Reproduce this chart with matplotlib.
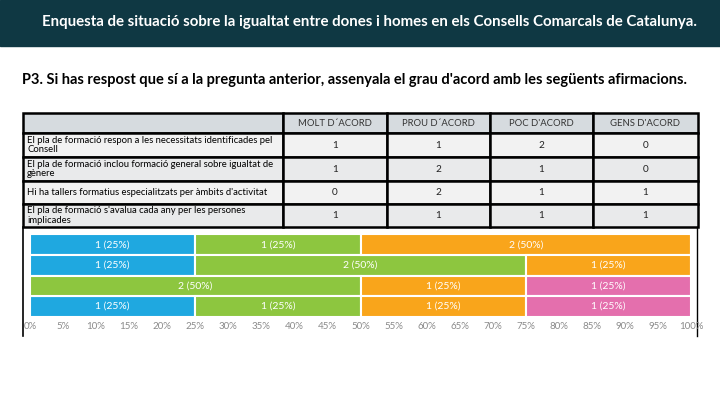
import numpy as np
import matplotlib.pyplot as plt
from matplotlib.patches import Rectangle

title = 'Enquesta de situació sobre la igualtat entre dones i homes en els Consells Comarcals de Catalunya.'
question = "P3. Si has respost que sí a la pregunta anterior, assenyala el grau d'acord amb les següents afirmacions."
answers = ['MOLT D´ACORD', 'PROU D´ACORD', "POC D'ACORD", "GENS D'ACORD"]
statements = [
    'El pla de formació respon a les necessitats identificades pel\nConsell',
    'El pla de formació inclou formació general sobre igualtat de\ngènere',
    "Hi ha tallers formatius especialitzats per àmbits d'activitat",
    "El pla de formació s'avalua cada any per les persones\nimplicades",
]
molt = [1, 1, 0, 1]
prou = [1, 2, 2, 1]
poc = [2, 1, 1, 1]
gens = [0, 0, 1, 1]
colors = ['#1fa8e0', '#8dc63f', '#f9a51b', '#e46fad']

plt.rcParams['font.family'] = ['Lato', 'DejaVu Sans']

W, H = 720, 405
fig = plt.figure(figsize=(W / 100, H / 100), dpi=100)

# background axes in pixel coordinates
bg = fig.add_axes([0, 0, 1, 1])
bg.set_xlim(0, W)
bg.set_ylim(H, 0)
bg.axis('off')

bg.add_patch(Rectangle((0, 0), W, 45.5, color='#0f3843'))
bg.text(370, 22, title, color='white', fontsize=10.8, weight='bold', ha='center', va='center')
bg.text(22, 80, question, color='black', fontsize=10.5, weight='bold', ha='left', va='center')

# table
col_x = [23, 283, 387, 490, 593, 698]
row_y = [113, 133, 157, 181, 204, 227]
values = np.array([molt, prou, poc, gens]).T
for r in range(5):
    y0, y1 = row_y[r], row_y[r + 1]
    fc = '#d6dbdf' if r == 0 else ('#f2f2f2' if r % 2 == 1 else '#e9eaeb')
    for c in range(5):
        x0, x1 = col_x[c], col_x[c + 1]
        bg.add_patch(Rectangle((x0, y0), x1 - x0, y1 - y0, facecolor=fc,
                               edgecolor='black', linewidth=1.8))
        xm, ym = (x0 + x1) / 2, (y0 + y1) / 2
        if r == 0:
            if c > 0:
                bg.text(xm, ym, answers[c - 1], fontsize=6.8, ha='center', va='center', color='#333333')
        else:
            if c == 0:
                bg.text(x0 + 4, ym, statements[r - 1], fontsize=6.8, ha='left', va='center',
                        linespacing=1.05, color='black')
            else:
                bg.text(xm, ym, str(values[r - 1][c - 1]), fontsize=7.2, ha='center', va='center',
                        color='#222222')

# frame lines under the table
bg.plot([23, 23], [227, 336], color='black', linewidth=1.2)
bg.plot([697, 697], [227, 336], color='black', linewidth=1.0)

# stacked bar chart
x0, x1 = 30, 691
top, bottom = 234.5, 316.5
ax = fig.add_axes([x0 / W, 1 - bottom / H, (x1 - x0) / W, (bottom - top) / H])
data = [molt, prou, poc, gens]
totals = np.sum(data, axis=0)
ypos = np.arange(len(statements))
left = np.zeros(len(statements))
for vals, col in zip(data, colors):
    vals = np.array(vals)
    pct = vals / totals * 100
    ax.barh(ypos, pct, left=left, height=1.0, color=col, edgecolor='white', linewidth=1.5)
    for i in range(len(vals)):
        if vals[i] > 0:
            ax.text(left[i] + pct[i] / 2, ypos[i], '%d (%d%%)' % (vals[i], round(pct[i])),
                    color='white', fontsize=7.5, ha='center', va='center')
    left += pct

ax.set_xlim(0, 100)
ax.set_ylim(len(statements) - 0.5, -0.5)
for s in ax.spines.values():
    s.set_visible(False)
ax.set_yticks([])
ax.set_xticks(np.arange(0, 101, 5))
ax.set_xticklabels(['%d%%' % v for v in range(0, 101, 5)])
ax.tick_params(axis='x', length=0, labelsize=7, labelcolor='#8a8a8a', pad=4)

fig.savefig('out.png', dpi=100)
